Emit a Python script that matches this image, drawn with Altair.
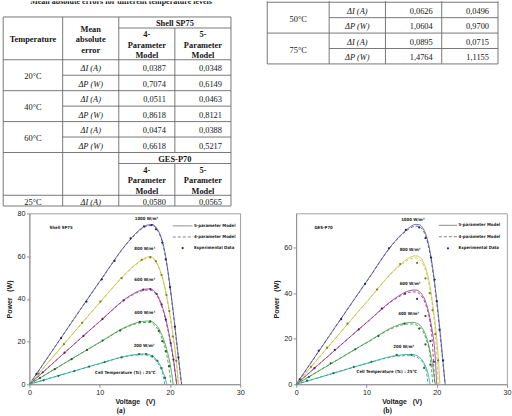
import altair as alt
import pandas as pd

SANS = "Liberation Sans"
NARROW = "Liberation Sans Narrow, DejaVu Sans Condensed, Liberation Sans"
SERIF = "Liberation Serif"

# ------------------------------------------------------------------ table text
TABLE_TITLE = "Mean absolute errors for different temperature levels"
HEAD_TEMP = "Temperature"
HEAD_ERR = ["Mean", "absolute", "error"]
HEAD_4P = ["4-", "Parameter", "Model"]
HEAD_5P = ["5-", "Parameter", "Model"]
MODULE_1 = "Shell SP75"
MODULE_2 = "GES-P70"
ERR_NAMES = ["ΔI (A)", "ΔP (W)"]

SP75_TEMPS = ["20°C", "40°C", "60°C"]
SP75_4P = ["0,0387", "0,7074", "0,0511", "0,8618", "0,0474", "0,6618"]
SP75_5P = ["0,0348", "0,6149", "0,0463", "0,8121", "0,0388", "0,5217"]

GES_TEMPS_L = ["25°C"]
GES_4P_L = ["0,0580"]
GES_5P_L = ["0,0565"]

GES_TEMPS_R = ["50°C", "75°C"]
GES_4P_R = ["0,0626", "1,0604", "0,0895", "1,4764"]
GES_5P_R = ["0,0496", "0,9700", "0,0715", "1,1155"]

# ------------------------------------------------------------------ P-V curves
IRR = ["1000 W/m²", "800 W/m²", "600 W/m²", "400 W/m²", "200 W/m²"]
LEG = ["5-parameter Model", "4-parameter Model", "Experimental Data"]

# (a) Shell SP75
SP_V_1000 = [0, 5, 10, 14, 15, 16, 17, 17.5, 18, 18.5, 19, 19.5, 20, 20.5, 21, 21.3, 21.65]
SP_P5_1000 = [0, 24.2, 48.2, 66.6, 70.3, 73.2, 74.7, 74.8, 73.6, 70.8, 66.0, 57.5, 46.0, 33.0, 18.5, 10.0, 0]
SP_P4_1000 = [0, 24.2, 48.1, 66.4, 70.0, 72.9, 74.3, 74.4, 73.2, 70.3, 65.5, 57.0, 45.5, 32.4, 17.8, 9.3, 0]

SP_V_800 = [0, 5, 10, 14, 15, 16, 17, 17.5, 18, 18.5, 19, 19.5, 20, 20.5, 20.9, 21.2]
SP_P5_800 = [0, 19.2, 38.3, 52.9, 55.9, 58.3, 59.7, 59.4, 57.6, 54.2, 49.0, 41.8, 32.5, 21.5, 11.0, 0]
SP_P4_800 = [0, 19.2, 38.2, 52.7, 55.7, 58.0, 59.3, 59.0, 57.2, 53.8, 48.6, 41.4, 32.2, 21.3, 10.8, 0]

SP_V_600 = [0, 5, 10, 14, 15, 16, 17, 17.5, 18, 18.5, 19, 19.5, 20, 20.5, 20.95]
SP_P5_600 = [0, 14.8, 29.5, 40.8, 42.8, 44.2, 44.7, 44.3, 42.8, 39.9, 35.4, 29.2, 21.2, 11.6, 0]
SP_P4_600 = [0, 14.8, 29.4, 40.6, 42.5, 43.8, 44.2, 43.8, 42.2, 39.3, 34.8, 28.6, 20.6, 11.0, 0]

SP_V_400 = [0, 5, 10, 14, 15, 16, 17, 17.5, 18, 18.5, 19, 19.5, 20, 20.15, 20.45]
SP_P5_400 = [0, 9.9, 19.7, 27.3, 28.6, 29.4, 29.6, 29.2, 27.9, 25.6, 21.9, 16.8, 9.8, 6.9, 0]
SP_P4_400 = [0, 9.9, 19.6, 27.0, 28.2, 28.9, 29.0, 28.5, 27.0, 24.3, 20.2, 14.5, 4.0, 0, None]

SP_V_200 = [0, 5, 10, 14, 15, 16, 16.5, 17, 17.5, 18, 18.5, 19, 19.25, 19.55]
SP_P5_200 = [0, 4.9, 9.75, 13.4, 13.9, 14.2, 14.2, 13.9, 13.2, 11.8, 9.5, 5.8, 3.4, 0]
SP_P4_200 = [0, 4.9, 9.7, 13.2, 13.6, 13.8, 13.7, 13.4, 12.6, 11.1, 8.6, 4.4, 0, None]

SP_DOT_V_1000 = [1.0, 4.5, 8.1, 10.3, 12.1, 14.4, 16.3, 17.4, 18.0, 18.9, 19.4, 20.0, 20.7, 21.2]
SP_DOT_P_1000 = [4.9, 21.6, 38.7, 49.1, 57.8, 68.4, 74.0, 74.6, 72.6, 66.4, 58.5, 45.5, 27.0, 12.6]
SP_DOT_V_800 = [1.3, 4.9, 7.5, 10.1, 13.1, 16.0, 17.2, 18.0, 18.8, 19.5, 19.9, 20.4, 20.9]
SP_DOT_P_800 = [5.0, 18.8, 28.8, 38.7, 49.7, 58.3, 59.6, 57.6, 51.2, 41.8, 34.3, 22.4, 11.0]
SP_DOT_V_600 = [1.9, 5.0, 7.7, 10.4, 13.4, 16.2, 17.2, 18.1, 18.8, 19.4, 20.1, 20.5]
SP_DOT_P_600 = [5.6, 14.8, 22.7, 30.6, 39.3, 44.3, 44.6, 42.3, 37.4, 30.4, 19.3, 11.6]
SP_DOT_V_400 = [1.5, 3.6, 6.0, 8.2, 10.4, 12.9, 15.7, 17.2, 18.4, 18.9, 19.4, 19.9]
SP_DOT_P_400 = [3.0, 7.1, 11.8, 16.1, 20.5, 25.2, 29.2, 29.5, 25.0, 20.2, 15.5, 8.5]
SP_DOT_V_200 = [2.0, 4.1, 6.4, 8.5, 10.7, 13.1, 15.6, 16.6, 17.5, 18.2, 18.8, 19.3]
SP_DOT_P_200 = [1.9, 4.0, 6.2, 8.3, 10.4, 12.6, 14.1, 14.2, 13.2, 11.0, 7.6, 3.0]

SP_LABEL_V = [16.65, 16.4, 16.4, 16.4, 16.3]
SP_LABEL_P = [77.3, 63.3, 48.8, 33.3, 18.1]
SP_LEGEND_V = [20.4, 23.2, 23.4]     # key start, key end, text start
SP_LEGEND_P = [74.2, 69.0, 63.8]     # one row per legend entry

# (b) GES-P70
GES_V_1000 = [0, 5, 10, 14, 15, 16, 17, 17.5, 18, 18.5, 19, 19.5, 20, 20.5, 20.9, 21.2]
GES_P5_1000 = [0, 22.6, 45.1, 62.6, 65.9, 68.6, 70.2, 70.1, 68.7, 65.4, 59.0, 49.5, 37.0, 22.5, 9.8, 0]
GES_P4_1000 = [0, 22.6, 45.0, 62.4, 65.6, 68.1, 69.5, 69.3, 67.8, 64.4, 57.9, 48.3, 35.8, 21.3, 8.7, 0]

GES_V_800 = [0, 5, 10, 14, 15, 16, 17, 17.5, 18, 18.5, 19, 19.5, 19.85, 20.2, 20.45]
GES_P5_800 = [0, 18.1, 36.1, 50.3, 53.1, 55.4, 56.4, 56.0, 54.2, 50.4, 43.8, 33.5, 24.6, 12.5, 0]
GES_P4_800 = [0, 18.1, 36.0, 50.0, 52.6, 54.7, 55.5, 55.0, 53.1, 49.2, 42.4, 31.8, 20.5, 0, None]

GES_V_600 = [0, 5, 10, 14, 15, 16, 17, 17.5, 18, 18.5, 19, 19.35, 19.7, 20.0]
GES_P5_600 = [0, 13.6, 27.1, 37.6, 39.6, 41.0, 41.4, 40.8, 39.0, 35.6, 29.6, 23.6, 15.4, 0]
GES_P4_600 = [0, 13.6, 27.0, 37.3, 39.1, 40.3, 40.6, 39.9, 38.0, 34.4, 28.0, 19.5, 0, None]

GES_V_400 = [0, 5, 10, 14, 15, 16, 16.6, 17, 17.5, 18, 18.5, 19, 19.45, 19.8]
GES_P5_400 = [0, 9.15, 18.3, 25.4, 26.5, 27.1, 27.2, 27.0, 26.2, 24.4, 21.0, 15.2, 7.5, 0]
GES_P4_400 = [0, 9.15, 18.2, 25.0, 26.0, 26.5, 26.5, 26.2, 25.3, 23.4, 19.8, 13.6, 0, None]

GES_V_200 = [0, 5, 10, 14, 15, 16, 16.5, 17, 17.5, 18, 18.5, 18.75, 19.05]
GES_P5_200 = [0, 4.6, 9.2, 12.5, 12.9, 13.1, 13.1, 12.8, 12.0, 10.3, 7.2, 4.8, 0]
GES_P4_200 = [0, 4.6, 9.1, 12.2, 12.5, 12.6, 12.5, 12.2, 11.3, 9.5, 6.0, 0, None]

GES_DOT_V_1000 = [0.5, 3.2, 6.4, 9.8, 13.2, 15.6, 17.5, 18.4, 19.2, 19.7, 20.0, 20.4, 20.9]
GES_DOT_P_1000 = [2.2, 14.7, 28.6, 44.1, 59.7, 67.8, 68.9, 64.2, 55.6, 46.0, 36.5, 24.0, 10.5]
GES_DOT_V_800 = [2.1, 4.4, 7.3, 11.5, 14.8, 17.2, 18.4, 19.0, 19.4, 19.8, 20.2]
GES_DOT_P_800 = [7.7, 16.1, 26.6, 41.6, 52.8, 53.3, 46.5, 40.0, 32.5, 22.0, 10.5]
GES_DOT_V_600 = [2.6, 5.5, 8.9, 12.2, 15.5, 17.2, 18.4, 19.1, 19.6]
GES_DOT_P_600 = [7.1, 15.1, 24.1, 33.2, 39.8, 37.5, 30.0, 19.0, 9.9]
GES_DOT_V_400 = [1.8, 4.9, 8.4, 11.7, 15.4, 17.5, 18.4, 19.1]
GES_DOT_P_400 = [3.2, 9.2, 15.4, 21.2, 26.6, 24.5, 17.5, 8.6]
GES_DOT_V_200 = [1.55, 5.3, 8.2, 10.7, 14.3, 16.4, 18.2]
GES_DOT_P_200 = [1.6, 4.9, 7.7, 9.9, 12.9, 12.9, 7.2]

GES_LABEL_V = [16.6, 16.2, 16.2, 16.0, 15.3]
GES_LABEL_P = [72.2, 59.1, 44.1, 30.7, 16.2]
GES_LEGEND_V = [20.3, 22.9, 23.1]
GES_LEGEND_P = [69.8, 64.8, 59.7]

CELL_TEMP = "Cell Temperature (Tc) : 25°C"
SP_NOTE_V, SP_NOTE_P = [4.5, 13.65], [73.4, 5.5]
GES_NOTE_V, GES_NOTE_P = [3.9, 12.9], [68.6, 5.2]

# ------------------------------------------------------------------ styles
SP_LINE = ["#50509e", "#c4c442", "#94388f", "#3c9a44", "#2fa58e"]
SP_DOT = ["#262660", "#7c7c1e", "#5a1f5a", "#1f5f26", "#1c6d5e"]
GES_LINE = ["#3c3cdc", "#c2c238", "#ae38ae", "#2e9e3a", "#24a88e"]
GES_DOT = ["#2626c8", "#a2a224", "#942294", "#1e9a2c", "#1c9a80"]

PLOT_W, PLOT_H = 211, 171
Y_AXIS_EXTENT = 26.3      # table left border sits this far left of the chart column origin
NOTE_SIZE = 4.3


# ------------------------------------------------------------------ tables
def edges(widths):
    e = [0.0]
    for w in widths:
        e.append(e[-1] + w)
    return e


def table_chart(rules, texts, col_edges, x_start, ymax, width, height):
    xs = alt.Scale(domain=[x_start, col_edges[-1]], nice=False, zero=False)
    ys = alt.Scale(domain=[0, ymax], nice=False, zero=False, reverse=True)
    rdf = pd.DataFrame(rules, columns=["x", "x2", "y", "y2"])
    layers = [
        alt.Chart(rdf).mark_rule(color="#6a6a6a", strokeWidth=0.9).encode(
            x=alt.X("x:Q", scale=xs, axis=None), x2="x2:Q",
            y=alt.Y("y:Q", scale=ys, axis=None), y2="y2:Q")
    ]
    tdf = pd.DataFrame(texts, columns=["x", "y", "text", "kind"])
    styles = {
        "title": dict(fontWeight="bold", fontSize=8, clip=True),
        "head": dict(fontWeight="bold", fontSize=8.4),
        "plain": dict(fontSize=8.4),
        "ital": dict(fontSize=8.4, fontStyle="italic"),
        "num": dict(fontSize=8.4, align="right"),
    }
    for kind, st in styles.items():
        if kind not in set(tdf["kind"]):
            continue
        layers.append(
            alt.Chart(tdf).transform_filter(alt.datum.kind == kind)
            .mark_text(font=SERIF, color="#151515", dy=1, **st)
            .encode(x=alt.X("x:Q", scale=xs, axis=None),
                    y=alt.Y("y:Q", scale=ys, axis=None), text="text:N"))
    return alt.layer(*layers).properties(
        width=width, height=height, view=alt.ViewBackground(strokeWidth=0))


E_L = edges([1.06, 1.0, 1.0, 1.0])
E_R = edges([1.1, 1.0, 1.0, 1.0])


def ccol(e, i, j=None):
    j = i if j is None else j
    return (e[i] + e[j + 1]) / 2


PADR = 0.16
H1, H3, HR = 1.05, 3.02, 1.47

# left table structure
y0 = 1.5
y1 = y0 + H1
y2 = y1 + H3
db = [y2 + HR * k for k in range(7)]
y8 = db[-1]
y9 = y8 + H1
y10 = y9 + H3
y11 = y10 + 1.02

L_rules = []
for xv, ya, yb in [(E_L[0], y0, y11), (E_L[1], y0, y11), (E_L[2], y0, y11),
                   (E_L[3], y1, y8), (E_L[3], y9, y11), (E_L[4], y0, y11)]:
    L_rules.append((xv, xv, ya, yb))
for yv, xa in [(y0, 0), (y1, 2), (y2, 0), (db[1], 1), (db[2], 0), (db[3], 1),
               (db[4], 0), (db[5], 1), (y8, 0), (y9, 2), (y10, 0), (y11, 0)]:
    L_rules.append((E_L[xa], E_L[4], yv, yv))

L_texts = [(ccol(E_L, 0, 3) + 0.07, -0.05, TABLE_TITLE, "title"),
           (ccol(E_L, 0), (y0 + y2) / 2, HEAD_TEMP, "head"),
           (ccol(E_L, 2, 3), (y0 + y1) / 2, MODULE_1, "head"),
           (ccol(E_L, 2, 3), (y8 + y9) / 2, MODULE_2, "head")]
for k, s in enumerate(HEAD_ERR):
    L_texts.append((ccol(E_L, 1), (y0 + y2) / 2 + (k - 1), s, "head"))
for ya, yb in [(y1, y2), (y9, y10)]:
    for k in range(3):
        L_texts.append((ccol(E_L, 2), (ya + yb) / 2 + (k - 1), HEAD_4P[k], "head"))
        L_texts.append((ccol(E_L, 3), (ya + yb) / 2 + (k - 1), HEAD_5P[k], "head"))
for g, t in enumerate(SP75_TEMPS):
    L_texts.append((ccol(E_L, 0), db[2 * g + 1], t, "plain"))
    for r in range(2):
        yc = (db[2 * g + r] + db[2 * g + r + 1]) / 2
        L_texts.append((ccol(E_L, 1), yc, ERR_NAMES[r], "ital"))
        L_texts.append((E_L[3] - PADR, yc, SP75_4P[2 * g + r], "num"))
        L_texts.append((E_L[4] - PADR, yc, SP75_5P[2 * g + r], "num"))
yc = (y10 + y11) / 2
L_texts += [(ccol(E_L, 0), yc, GES_TEMPS_L[0], "plain"),
            (ccol(E_L, 1), yc, ERR_NAMES[0], "ital"),
            (E_L[3] - PADR, yc, GES_4P_L[0], "num"),
            (E_L[4] - PADR, yc, GES_5P_L[0], "num")]

# right table structure (continuation, top cut off)
rb = [0.1 + HR * k for k in range(5)]
R_rules = [(xv, xv, 0.0, rb[4]) for xv in E_R]
for yv, xa in [(rb[0], 0), (rb[1], 1), (rb[2], 0), (rb[3], 1), (rb[4], 0)]:
    R_rules.append((E_R[xa], E_R[4], yv, yv))
R_texts = []
for g, t in enumerate(GES_TEMPS_R):
    R_texts.append((ccol(E_R, 0), rb[2 * g + 1], t, "plain"))
    for r in range(2):
        yc = (rb[2 * g + r] + rb[2 * g + r + 1]) / 2
        R_texts.append((ccol(E_R, 1), yc, ERR_NAMES[r], "ital"))
        R_texts.append((E_R[3] - PADR, yc, GES_4P_R[2 * g + r], "num"))
        R_texts.append((E_R[4] - PADR, yc, GES_5P_R[2 * g + r], "num"))

# left table: 228 px wide, its chart origin shares the column origin of plot (a)
L_PX = 228.0
L_UNIT = L_PX / E_L[-1]
L_START = Y_AXIS_EXTENT / L_UNIT
L_WIDTH = L_PX - Y_AXIS_EXTENT
table_left = table_chart(L_rules, L_texts, E_L, L_START, y11, L_WIDTH, 205)
table_right = table_chart(R_rules, R_texts, E_R, 0.0, 6.0, 231, 63)


# ------------------------------------------------------------------ P-V charts
def pv_chart(curves, dots, lab_v, lab_p, note_v, note_p, leg_v, leg_p, module,
             line_cols, dot_cols, ymax, yvals, caption, dot_legend_col):
    rows = []
    for g, V, P5, P4 in curves:
        for v, p in zip(V, P5):
            rows.append(dict(G=g, model=LEG[0], V=v, P=p))
        for v, p in zip(V, P4):
            rows.append(dict(G=g, model=LEG[1], V=v, P=p))
    ldf = pd.DataFrame(rows)
    drows = []
    for g, V, P in dots:
        for v, p in zip(V, P):
            drows.append(dict(G=g, V=v, P=p))
    ddf = pd.DataFrame(drows)
    tdf = pd.DataFrame({"V": lab_v + note_v, "P": lab_p + note_p,
                        "label": IRR + [module, CELL_TEMP]})
    key_lines = pd.DataFrame({"model": LEG[:2], "V1": [leg_v[0]] * 2, "V2": [leg_v[1]] * 2,
                              "P": leg_p[:2]})
    key_dot = pd.DataFrame({"V": [(leg_v[0] + leg_v[1]) / 2], "P": [leg_p[2]]})
    key_text = pd.DataFrame({"V": [leg_v[2]] * 3, "P": leg_p, "label": LEG})

    xs = alt.Scale(domain=[0, 30], nice=False, zero=False)
    ys = alt.Scale(domain=[0, ymax], nice=False, zero=False)
    common = dict(grid=False, labelFont=SANS, labelFontSize=7.2, labelColor="#222",
                  titleFont=SANS, titleFontSize=7, titleFontWeight="bold", titleColor="#222",
                  tickSize=3, tickColor="#777", tickWidth=0.8, domainColor="#8a8a8a",
                  domainWidth=0.8, labelPadding=1.5)
    xaxis = alt.Axis(values=list(range(0, 31, 5)), title="Voltage\u00a0\u00a0\u00a0(V)",
                     labelFlush=False, titlePadding=1, **common)
    yaxis = alt.Axis(values=yvals, title="Power\u00a0\u00a0\u00a0(W)", titlePadding=4, **common)
    dash = alt.Scale(domain=LEG[:2], range=[[1, 0], [3, 2]])

    lines = alt.Chart(ldf).mark_line(strokeWidth=0.9, interpolate="monotone").encode(
        x=alt.X("V:Q", scale=xs, axis=xaxis),
        y=alt.Y("P:Q", scale=ys, axis=yaxis),
        stroke=alt.Stroke("G:N", scale=alt.Scale(domain=IRR, range=line_cols), legend=None),
        strokeDash=alt.StrokeDash("model:N", scale=dash, legend=None),
    )
    pts = alt.Chart(ddf).mark_point(filled=True, size=5, opacity=1).encode(
        x=alt.X("V:Q", scale=xs), y=alt.Y("P:Q", scale=ys),
        fill=alt.Fill("G:N", scale=alt.Scale(domain=IRR, range=dot_cols), legend=None),
    )
    notes = alt.Chart(tdf).mark_text(font=NARROW, fontSize=NOTE_SIZE, fontWeight="bold",
                                     color="#222").encode(
        x=alt.X("V:Q", scale=xs), y=alt.Y("P:Q", scale=ys), text="label:N")
    k_lines = alt.Chart(key_lines).mark_rule(strokeWidth=0.9, color="#777777").encode(
        x=alt.X("V1:Q", scale=xs), x2="V2:Q", y=alt.Y("P:Q", scale=ys),
        strokeDash=alt.StrokeDash("model:N", scale=dash, legend=None))
    k_dot = alt.Chart(key_dot).mark_point(filled=True, size=5, opacity=1, color=dot_legend_col).encode(
        x=alt.X("V:Q", scale=xs), y=alt.Y("P:Q", scale=ys))
    k_text = alt.Chart(key_text).mark_text(font=NARROW, fontSize=NOTE_SIZE, fontWeight="bold",
                                           color="#222", align="left").encode(
        x=alt.X("V:Q", scale=xs), y=alt.Y("P:Q", scale=ys), text="label:N")
    return alt.layer(lines, pts, notes, k_lines, k_dot, k_text).properties(
        width=PLOT_W, height=PLOT_H,
        view=alt.ViewBackground(stroke="#8a8a8a", strokeWidth=0.8),
        title=alt.TitleParams(caption, orient="bottom", font=SERIF, fontSize=7.2, fontWeight="bold",
                              color="#111", offset=3.5, dx=-14, anchor="middle"))


sp_curves = [
    (IRR[0], SP_V_1000, SP_P5_1000, SP_P4_1000), (IRR[1], SP_V_800, SP_P5_800, SP_P4_800),
    (IRR[2], SP_V_600, SP_P5_600, SP_P4_600), (IRR[3], SP_V_400, SP_P5_400, SP_P4_400),
    (IRR[4], SP_V_200, SP_P5_200, SP_P4_200)]
sp_dots = [
    (IRR[0], SP_DOT_V_1000, SP_DOT_P_1000), (IRR[1], SP_DOT_V_800, SP_DOT_P_800),
    (IRR[2], SP_DOT_V_600, SP_DOT_P_600), (IRR[3], SP_DOT_V_400, SP_DOT_P_400),
    (IRR[4], SP_DOT_V_200, SP_DOT_P_200)]
ges_curves = [
    (IRR[0], GES_V_1000, GES_P5_1000, GES_P4_1000), (IRR[1], GES_V_800, GES_P5_800, GES_P4_800),
    (IRR[2], GES_V_600, GES_P5_600, GES_P4_600), (IRR[3], GES_V_400, GES_P5_400, GES_P4_400),
    (IRR[4], GES_V_200, GES_P5_200, GES_P4_200)]
ges_dots = [
    (IRR[0], GES_DOT_V_1000, GES_DOT_P_1000), (IRR[1], GES_DOT_V_800, GES_DOT_P_800),
    (IRR[2], GES_DOT_V_600, GES_DOT_P_600), (IRR[3], GES_DOT_V_400, GES_DOT_P_400),
    (IRR[4], GES_DOT_V_200, GES_DOT_P_200)]

chart_a = pv_chart(sp_curves, sp_dots, SP_LABEL_V, SP_LABEL_P, SP_NOTE_V, SP_NOTE_P,
                   SP_LEGEND_V, SP_LEGEND_P, MODULE_1, SP_LINE, SP_DOT, 80,
                   list(range(0, 81, 10)), "(a)", "#262660")
chart_b = pv_chart(ges_curves, ges_dots, GES_LABEL_V, GES_LABEL_P, GES_NOTE_V, GES_NOTE_P,
                   GES_LEGEND_V, GES_LEGEND_P, MODULE_2, GES_LINE, GES_DOT, 75,
                   list(range(0, 71, 10)), "(b)", "#2626c8")

top = alt.hconcat(table_left, table_right, spacing=267 - 29.3 - L_WIDTH, bounds="flush")
bottom = alt.hconcat(chart_a, chart_b, spacing=56, bounds="flush")

chart = alt.vconcat(top, bottom, spacing=1.5).properties(
    padding={"left": 2.5, "top": 0, "right": 0, "bottom": 0}
).configure(font=SANS).configure_view(strokeWidth=0)

chart.save("out.html", embed_options={"renderer": "svg", "actions": False})
